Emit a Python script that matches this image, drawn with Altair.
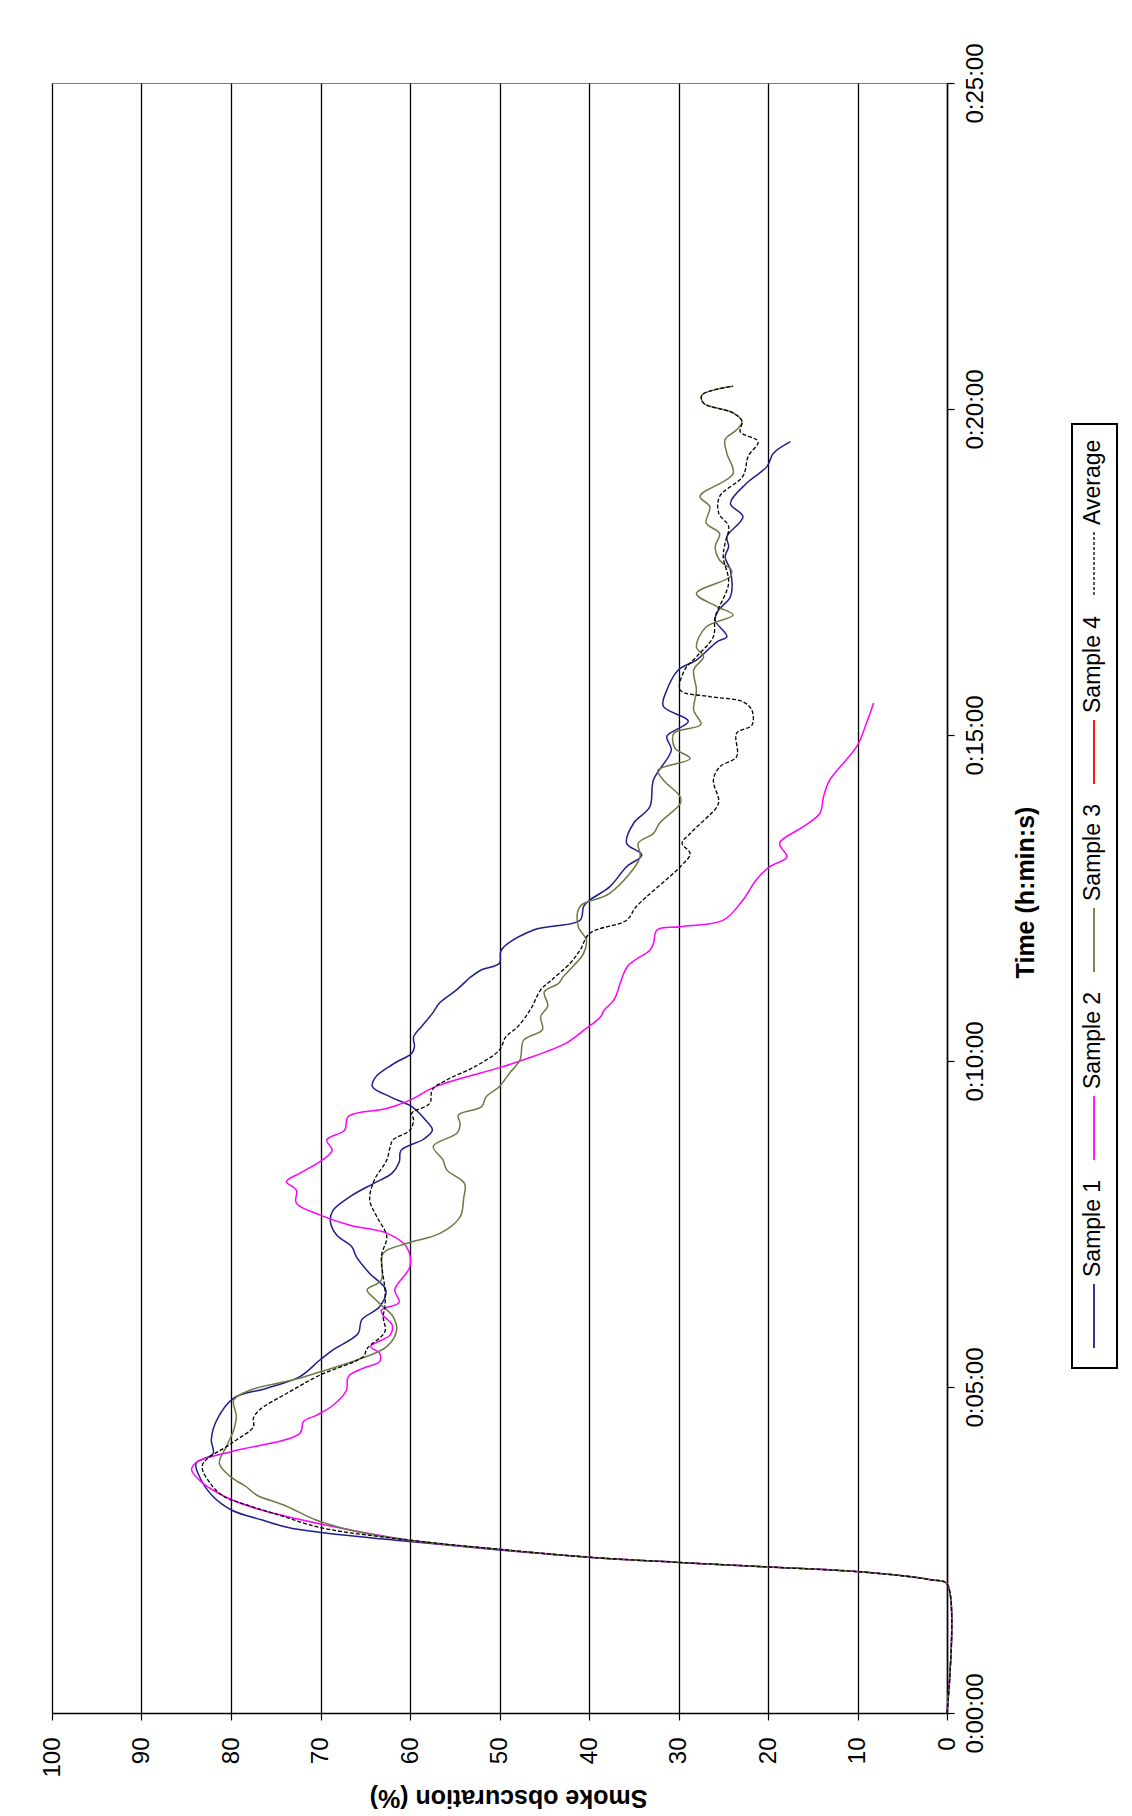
import altair as alt
import pandas as pd

# ---------------- data (time in minutes, smoke obscuration in %) ----------------
s1_time = [0.00, 1.98, 2.04, 2.10, 2.17, 2.24, 2.31, 2.39, 2.50, 2.63, 2.77, 2.84, 2.96, 3.11, 3.32, 3.62, 3.83, 3.98, 4.19, 4.49,
           4.83, 4.98, 5.16, 5.41, 5.57, 5.82, 6.03, 6.23, 6.49, 6.74, 7.00, 7.15, 7.33, 7.54, 7.71, 7.92, 8.12, 8.28, 8.45, 8.63,
           8.80, 8.94, 9.10, 9.30, 9.45, 9.61, 9.76, 9.96, 10.12, 10.22, 10.37, 10.53, 10.73, 10.89, 11.09, 11.29, 11.40, 11.50, 11.70, 12.01,
           12.16, 12.37, 12.47, 12.67, 12.98, 13.16, 13.34, 13.65, 13.90, 14.31, 14.77, 14.98, 15.21, 15.44, 15.69, 16.00, 16.15, 16.43, 16.51, 16.76,
           16.92, 17.12, 17.53, 17.73, 17.89, 18.04, 18.35, 18.55, 18.86, 19.12, 19.32, 19.50]
s1_obsc = [0, 0, 1.7, 4.7, 10.2, 20, 30, 40, 50, 60, 70, 73.5, 76.5, 79.9, 82.0, 83.5, 83.9, 82.0, 82.2, 81.6,
           79.7, 76.0, 72.3, 70.1, 68.6, 65.8, 65.4, 63.4, 62.7, 64.5, 66.0, 66.5, 68.2, 68.9, 68.6, 66.7, 64.1, 62.0, 61.2, 61.0,
           58.5, 57.5, 58.3, 59.8, 62.2, 64.2, 63.8, 61.8, 59.8, 59.5, 59.6, 58.7, 57.5, 56.7, 54.8, 53.2, 52.0, 50.0, 49.8, 46.2,
           41.0, 40.6, 39.9, 37.7, 35.8, 34.1, 35.8, 35.0, 33.2, 32.8, 30.8, 31.3, 28.9, 31.7, 31.3, 30.0, 28.0, 25.7, 24.6, 25.9,
           25.5, 24.2, 24.2, 24.8, 24.4, 24.6, 22.8, 24.2, 22.4, 20.1, 19.4, 17.5]

s2_time = [0.00, 1.98, 2.04, 2.10, 2.17, 2.24, 2.31, 2.39, 2.51, 2.65, 2.90, 3.11, 3.27, 3.53, 3.73, 3.85, 4.01, 4.29, 4.47, 4.57,
           4.72, 4.95, 5.16, 5.29, 5.39, 5.52, 5.62, 5.80, 5.95, 6.10, 6.18, 6.30, 6.49, 6.85, 7.15, 7.36, 7.48, 7.64, 7.82, 8.02,
           8.15, 8.28, 8.48, 8.63, 8.79, 8.94, 9.15, 9.27, 9.40, 9.61, 9.91, 10.02, 10.27, 10.48, 10.68, 10.78, 10.94, 11.45, 11.70, 11.80,
           12.01, 12.06, 12.16, 12.47, 12.78, 12.98, 13.13, 13.34, 13.59, 13.80, 14.05, 14.31, 14.82, 15.18, 15.49]
s2_obsc = [0, 0, 1.7, 4.7, 10.2, 20, 30, 40, 50, 60, 70, 76.5, 79.9, 83.2, 84.4, 83.8, 79.9, 72.3, 71.9, 70.4,
           68.6, 67.1, 66.9, 65.2, 63.4, 63.4, 64.4, 62.2, 62.0, 63.0, 63.2, 61.2, 61.7, 60.0, 60.4, 62.6, 66.7, 70.1, 72.7, 72.7,
           73.8, 72.3, 69.8, 68.7, 69.3, 67.3, 66.9, 62.6, 60.0, 57.1, 49.7, 47.3, 42.6, 40.5, 38.7, 38.3, 37.2, 35.7, 33.2, 32.8,
           32.4, 29.8, 25.0, 22.8, 21.3, 19.8, 17.9, 18.7, 16.1, 14.2, 13.8, 13.1, 10.1, 9.0, 8.2]

s3_time = [0.00, 1.98, 2.04, 2.10, 2.17, 2.24, 2.31, 2.39, 2.51, 2.65, 2.80, 2.96, 3.19, 3.34, 3.47, 3.63, 3.83, 4.09, 4.34, 4.55,
           4.80, 4.95, 5.11, 5.23, 5.41, 5.62, 5.87, 6.08, 6.23, 6.36, 6.49, 6.64, 7.05, 7.20, 7.36, 7.61, 7.90, 8.12, 8.33, 8.48,
           8.69, 8.90, 9.04, 9.17, 9.30, 9.45, 9.61, 9.81, 10.02, 10.32, 10.48, 10.68, 10.85, 11.06, 11.19, 11.29, 11.45, 11.65, 11.86, 12.06,
           12.37, 12.57, 13.13, 13.34, 13.49, 13.65, 13.95, 14.05, 14.31, 14.46, 14.64, 14.80, 15.03, 15.16, 15.38, 15.69, 16.00, 16.20, 16.35, 16.66,
           16.84, 16.97, 17.17, 17.43, 17.53, 17.68, 17.89, 18.09, 18.25, 18.50, 18.66, 19.01, 19.32, 19.53, 19.68, 19.81, 19.94, 20.09, 20.21, 20.29,
           20.35]
s3_obsc = [0, 0, 1.7, 4.7, 10.2, 20, 30, 40, 50, 60, 66.5, 70.5, 74.1, 77.1, 78.3, 80.1, 81.3, 80.5, 79.7, 79.4,
           79.7, 77.9, 73.0, 70.1, 66.0, 62.6, 61.5, 61.9, 63.0, 64.0, 64.8, 63.2, 63.0, 60.4, 56.6, 54.4, 54.0, 53.9, 55.9, 56.3,
           57.4, 54.7, 54.4, 54.6, 52.0, 51.5, 50.0, 48.9, 47.7, 47.3, 45.2, 45.4, 44.6, 45.0, 43.4, 42.9, 41.8, 40.6, 40.3, 41.2,
           41.0, 37.7, 34.3, 34.5, 32.8, 32.1, 29.8, 29.8, 31.7, 32.3, 28.7, 30.4, 30.5, 27.5, 28.3, 28.0, 28.3, 27.2, 28.0, 26.9,
           23.9, 25.7, 28.0, 24.2, 24.1, 25.4, 25.9, 25.4, 26.9, 26.5, 27.6, 23.9, 24.6, 24.8, 23.5, 22.9, 23.9, 27.2, 27.4, 26.1,
           23.9]

avg_time = [0.00, 1.98, 2.04, 2.10, 2.17, 2.24, 2.31, 2.39, 2.51, 2.65, 2.84, 3.04, 3.22, 3.32, 3.52, 3.80, 4.14, 4.39, 4.52, 4.65,
            4.90, 5.18, 5.47, 5.59, 5.85, 6.08, 6.23, 6.49, 7.00, 7.31, 7.61, 7.87, 8.17, 8.48, 8.69, 8.79, 8.94, 9.10, 9.20, 9.35,
            9.56, 9.71, 9.91, 10.17, 10.37, 10.52, 10.80, 11.09, 11.24, 11.50, 11.70, 11.96, 12.16, 12.37, 12.98, 13.18, 13.34, 13.49, 13.90, 14.00,
            14.31, 14.51, 14.67, 15.03, 15.15, 15.38, 15.51, 15.59, 15.69, 16.00, 16.20, 16.51, 16.81, 17.33, 17.73, 17.94, 18.20, 18.40, 18.66, 18.97,
            19.28, 19.50, 19.65, 19.81, 19.94, 20.09, 20.21, 20.29, 20.35]
avg_obsc = [0, 0, 1.7, 4.7, 10.2, 20, 30, 40, 50, 60, 69.9, 74.7, 78.9, 80.8, 82.3, 83.2, 79.9, 77.5, 77.5, 76.8,
            73.8, 70.1, 65.2, 64.8, 62.8, 63.0, 62.8, 62.8, 63.2, 62.6, 63.7, 64.5, 64.0, 62.6, 62.2, 61.9, 60.0, 59.6, 59.8, 57.8,
            57.5, 55.9, 52.8, 50.0, 49.3, 48.0, 46.5, 45.4, 44.2, 42.1, 41.0, 39.9, 35.8, 34.7, 29.8, 28.7, 29.6, 28.7, 25.7, 25.5,
            26.1, 25.4, 23.5, 23.5, 21.8, 21.8, 22.8, 26.5, 29.8, 29.3, 28.0, 26.1, 25.9, 24.4, 25.0, 24.8, 24.4, 25.5, 25.4, 22.8,
            22.2, 21.1, 23.1, 22.9, 23.9, 27.2, 27.4, 26.1, 23.9]

legend_names = ["Sample 1", "Sample 2", "Sample 3", "Sample 4", "Average"]
series_colors = ["#1e1e8c", "#ff00ff", "#6b7b43", "#ff0000", "#000000"]
x_ticks = [0, 10, 20, 30, 40, 50, 60, 70, 80, 90, 100]
time_ticks = [0, 5, 10, 15, 20, 25]

FONT = "Liberation Sans Narrow, Arial Narrow, Liberation Sans, Arial, sans-serif"
W, H = 895, 1630

series_data = {
    "Sample 1": (s1_time, s1_obsc),
    "Sample 2": (s2_time, s2_obsc),
    "Sample 3": (s3_time, s3_obsc),
    "Average": (avg_time, avg_obsc),
}

x_enc = alt.X(
    "s:Q",
    scale=alt.Scale(domain=[0, 100], reverse=True, nice=False, zero=False),
    axis=alt.Axis(
        values=x_ticks, grid=True, gridColor="#000000", gridWidth=1.3,
        domainColor="#000000", domainWidth=1.5, tickColor="#000000", tickSize=7, tickWidth=1.2,
        labelAngle=270, labelAlign="right", labelBaseline="middle", labelPadding=17,
        labelFont=FONT, labelFontSize=24, labelColor="#000000", labelFlush=False, labelOverlap=False,
        title="Smoke obscuration (%)", titleAngle=180, titleBaseline="alphabetic", titleAlign="center",
        titleX=456, titleY=76, titleFont=FONT, titleFontSize=25, titleFontWeight="bold", titleColor="#000000",
    ),
)
y_enc = alt.Y(
    "t:Q",
    scale=alt.Scale(domain=[0, 25], nice=False, zero=True),
    axis=alt.Axis(
        orient="right", values=time_ticks, grid=False,
        labelExpr="'0:' + (datum.value < 10 ? '0' : '') + datum.value + ':00'",
        domainColor="#000000", domainWidth=1.5, tickColor="#000000", tickSize=7, tickWidth=1.2,
        labelAngle=270, labelAlign="center", labelBaseline="top", labelPadding=9,
        labelFont=FONT, labelFontSize=24, labelColor="#000000", labelFlush=False, labelOverlap=False,
        title="Time (h:min:s)", titleAngle=270, titleBaseline="alphabetic", titleAlign="center",
        titleX=86, titleY=809, titleFont=FONT, titleFontSize=25, titleFontWeight="bold", titleColor="#000000",
    ),
)

layers = []
for name, color in zip(legend_names, series_colors):
    if name not in series_data:
        continue
    ts, ss = series_data[name]
    d = pd.DataFrame({"t": ts, "s": ss})
    if name == "Average":
        mk = alt.Chart(d).mark_line(color=color, strokeWidth=1.3, strokeDash=[4, 2], interpolate="catmull-rom")
    else:
        mk = alt.Chart(d).mark_line(color=color, strokeWidth=1.5, interpolate="catmull-rom")
    layers.append(mk.encode(x=x_enc, y=y_enc, order=alt.Order("t:Q")))

# ---------------- manual (rotated) legend ----------------
box = alt.Chart(pd.DataFrame({"n": ["box"]})).mark_rect(
    fill="white", stroke="#000000", strokeWidth=2
).encode(x=alt.value(1020), x2=alt.value(1065), y=alt.value(341), y2=alt.value(1285))
layers.append(box)

for i, (name, color) in enumerate(zip(legend_names, series_colors)):
    bottom = 1348 - 188 * i - 83
    top = bottom - 64
    ld = pd.DataFrame({"n": [name]})
    if name == "Average":
        rl = alt.Chart(ld).mark_rule(color=color, strokeWidth=1.3, strokeDash=[3, 2])
    else:
        rl = alt.Chart(ld).mark_rule(color=color, strokeWidth=1.8)
    layers.append(rl.encode(x=alt.value(1042), y=alt.value(top), y2=alt.value(bottom)))
    tx = alt.Chart(ld).mark_text(
        angle=270, align="left", baseline="middle", font=FONT, fontSize=23, color="#000000"
    ).encode(x=alt.value(1041), y=alt.value(top - 7), text="n:N")
    layers.append(tx)

chart = alt.layer(*layers).properties(
    width=W, height=H,
    autosize=alt.AutoSizeParams(type="none"),
    padding={"left": 52, "top": 83, "right": 185, "bottom": 103},
    background="white",
).configure_view(stroke="#808080", strokeWidth=1)

chart.save("out.html", embed_options={"renderer": "svg", "actions": False})
